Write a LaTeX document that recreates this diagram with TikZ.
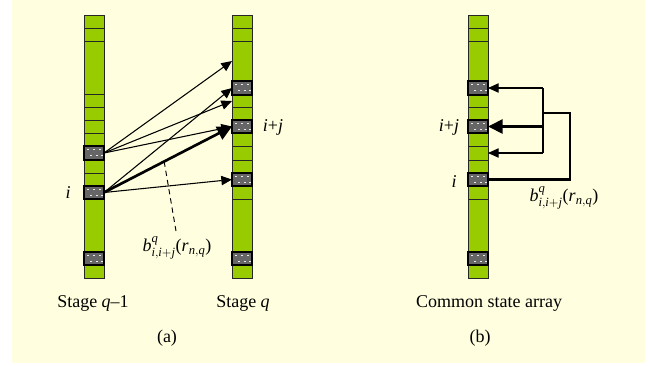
\documentclass[tikz,border=0pt]{standalone}
\usepackage{fontspec}
\usepackage{amsmath}
\setmainfont{Liberation Serif}
\usetikzlibrary{arrows.meta}

\definecolor{bgyellow}{HTML}{FFFFE0}
\definecolor{cellgreen}{HTML}{99CC00}
\definecolor{celldark}{HTML}{666666}

% transition-probability label
\newcommand\bexpr{\textit{b}$^{\textit{q}}_{\textit{i},\textit{i}+\textit{j}}$(\textit{r}$_{\textit{n},\textit{q}}$)}

% one cell of a state bar: name, left x, top y, bottom y, style
\newcommand\statecell[5]{%
  \pgfmathsetlengthmacro\cellh{(#4-#3)*0.75pt}%
  \node[#5, minimum height=\cellh] (#1) at ({#2+10},{(#3+#4)/2}) {};}

\tikzset{
  greencell/.style={draw=black!85, line width=0.75pt, fill=cellgreen,
    minimum width=15pt, inner sep=0pt, outer sep=0pt},
  darkcell/.style={draw=black, line width=1.2pt, fill=celldark,
    minimum width=15pt, inner sep=0pt, outer sep=0pt},
  speck/.style={fill=white!85!gray},
  thinarrow/.style={line width=0.8pt, -{Triangle[length=8pt,width=7pt]}},
  thickarrow/.style={line width=2pt, -{Triangle[length=11pt,width=10.5pt]}},
  lbl/.style={font=\fontsize{13.5}{16}\selectfont, inner sep=0pt},
}

\begin{document}
\begin{tikzpicture}[x=0.75pt,y=-0.75pt]
\useasboundingbox (0,0) rectangle (651,365);
\fill[bgyellow] (12,0) rectangle (645,363);

% stage q-1 bar
\foreach \k/\t/\b in {1/15/28, 2/28/41, 3/41/94, 4/94/107, 5/107/120, 6/120/133,
    7/133/146, 9/160/173, 10/173/186, 12/199/252, 14/265/278}
  {\statecell{L\k}{84}{\t}{\b}{greencell}}
\foreach \k/\t/\b in {8/146/160, 11/186/199, 13/252/265}
  {\statecell{L\k}{84}{\t}{\b}{darkcell}}

% stage q bar and common state array bar
\foreach \n/\x in {R/232, Q/468}{
  \foreach \k/\t/\b in {1/15/28, 2/28/41, 3/41/81, 5/95/107, 6/107/120, 8/133/146,
      9/146/160, 10/160/173, 12/186/199, 13/199/252, 15/265/278}
    {\statecell{\n\k}{\x}{\t}{\b}{greencell}}
  \foreach \k/\t/\b in {4/81/95, 7/120/133, 11/173/186, 14/252/265}
    {\statecell{\n\k}{\x}{\t}{\b}{darkcell}}
}

% light specks on the occupied cells
\foreach \c in {L8, L11, L13, R4, R7, R11, R14, Q4, Q7, Q11, Q14}{
  \begin{scope}[shift={(\c.north west)}]
    \foreach \dx/\dy in {3/3, 9/3, 15/3, 6/8.5, 12/8.5, 17/8.5}
      \fill[speck] (\dx,\dy) rectangle ++(1.6,1.1);
  \end{scope}
}

% (a) transitions between stages
\draw[thinarrow] (L8.east) -- (R3.west);
\draw[thinarrow] (L8.east) -- (R5.west);
\draw[thinarrow] (L8.east) -- (R7.west);
\draw[thinarrow] (L11.east) -- (R4.west);
\draw[thinarrow] (L11.east) -- (R11.west);
\draw[thickarrow] (L11.east) -- (R7.west) coordinate[pos=0.47] (dashA);

\node[lbl] (ijA) at (273,127) {\textit{i}+\textit{j}};
\node[lbl] (iA) at (68,193) {\textit{i}};
\node[lbl] (bA) at (177,248) {\bexpr};
\coordinate (dashEnd) at (176,231);
\draw[line width=0.7pt, dash pattern=on 4pt off 3pt] (dashA) -- (dashEnd);

% (b) transitions inside the common array
\coordinate (loopR) at (570,113);
\coordinate (loopL) at (543,113);
\draw[thickarrow] (Q11.east) -| (loopR) -- (loopL) |- (Q7.east);
\draw[line width=0.8pt] (Q4.east -| loopL) -- (Q9.east -| loopL);
\draw[thinarrow] (Q4.east -| loopL) -- (Q4.east);
\draw[thinarrow] (Q9.east -| loopL) -- (Q9.east);

\node[lbl] (ijB) at (449,127) {\textit{i}+\textit{j}};
\node[lbl] (iB) at (454,182) {\textit{i}};
\node[lbl] (bB) at (564,198) {\bexpr};

% captions
\node[lbl] (capL) at (93,303) {Stage \textit{q}\textendash1};
\node[lbl] (capR) at (243,303) {Stage \textit{q}};
\node[lbl] (capQ) at (489,303) {Common state array};
\node[lbl] (capa) at (167,338) {(a)};
\node[lbl] (capb) at (480,338) {(b)};
\end{tikzpicture}
\end{document}
